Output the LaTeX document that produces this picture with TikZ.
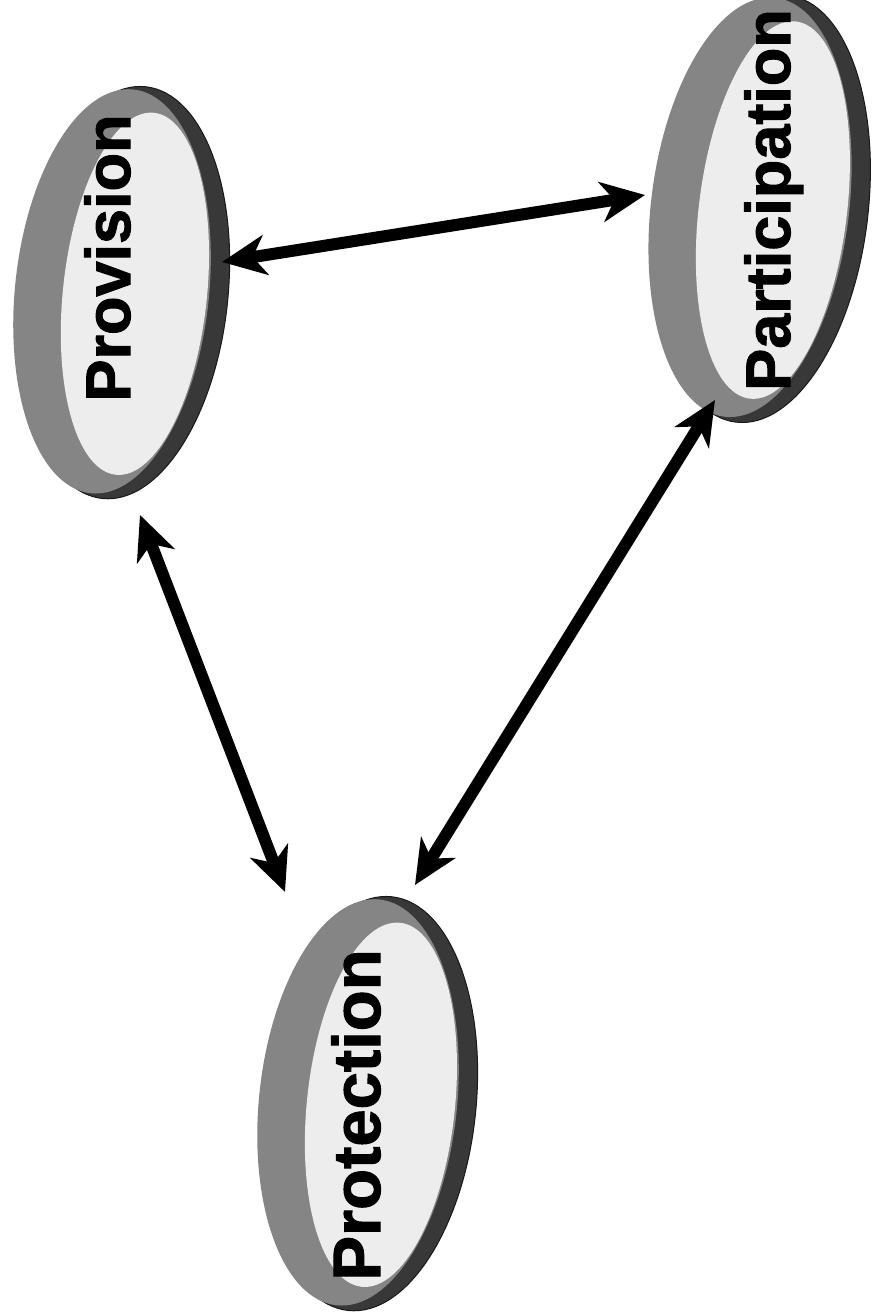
\documentclass[tikz,border=0pt]{standalone}
\usepackage{fontspec}
\setmainfont{Liberation Sans}[BoldFeatures={FakeBold=1.6}]
\usetikzlibrary{arrows.meta}
\definecolor{rimdark}{gray}{0.22}
\definecolor{rimmid}{gray}{0.52}
\definecolor{face}{gray}{0.93}
\tikzset{
  rimback/.style={fill=rimdark, draw=black!90, line width=1pt},
  rimfront/.style={fill=rimmid, draw=none},
  discface/.style={fill=face, draw=none},
  label/.style={font=\fontsize{63}{70}\selectfont\bfseries, rotate=90, anchor=base, inner sep=0pt},
  link/.style={line width=12pt, {Stealth[length=44pt, width=40pt, inset=13pt]}-{Stealth[length=44pt, width=40pt, inset=13pt]}}
}
\begin{document}
\begin{tikzpicture}[x=1pt,y=1pt]
\useasboundingbox (0,0) rectangle (887,1315);
\fill[white] (0,0) rectangle (887,1315);
% Provision disc
\begin{scope}[shift={(118,1023)}, rotate=-6]
  \fill[rimback] (6,0) ellipse [x radius=104, y radius=207];
  \fill[rimfront] (-6,0) ellipse [x radius=97, y radius=203];
  \fill[discface] (17,0) ellipse [x radius=72, y radius=182];
\end{scope}
% Participation disc
\begin{scope}[shift={(756,1107)}, rotate=-7]
  \fill[rimback] (6,0) ellipse [x radius=106, y radius=215];
  \fill[rimfront] (-6,0) ellipse [x radius=99, y radius=211];
  \fill[discface] (17,0) ellipse [x radius=74, y radius=190];
\end{scope}
% Protection disc
\begin{scope}[shift={(364,212)}, rotate=-6]
  \fill[rimback] (6,0) ellipse [x radius=106, y radius=208];
  \fill[rimfront] (-6,0) ellipse [x radius=99, y radius=204];
  \fill[discface] (17,0) ellipse [x radius=74, y radius=183];
\end{scope}
% labels
\node[label] (prov) at (130,1057) {Provision};
\node[label] (part) at (790,1115) {Participation};
\node[label, font=\fontsize{67}{74}\selectfont\bfseries] (prot) at (380,200) {Protection};
% arrow end points on the disc rims
\coordinate (provE) at (222,1053);
\coordinate (provS) at (140,800);
\coordinate (partW) at (645,1120);
\coordinate (partS) at (715,915);
\coordinate (protNW) at (285,423);
\coordinate (protNE) at (415,430);
\draw[link] (provE) -- (partW);
\draw[link] (provS) -- (protNW);
\draw[link] (partS) -- (protNE);
\end{tikzpicture}
\end{document}
